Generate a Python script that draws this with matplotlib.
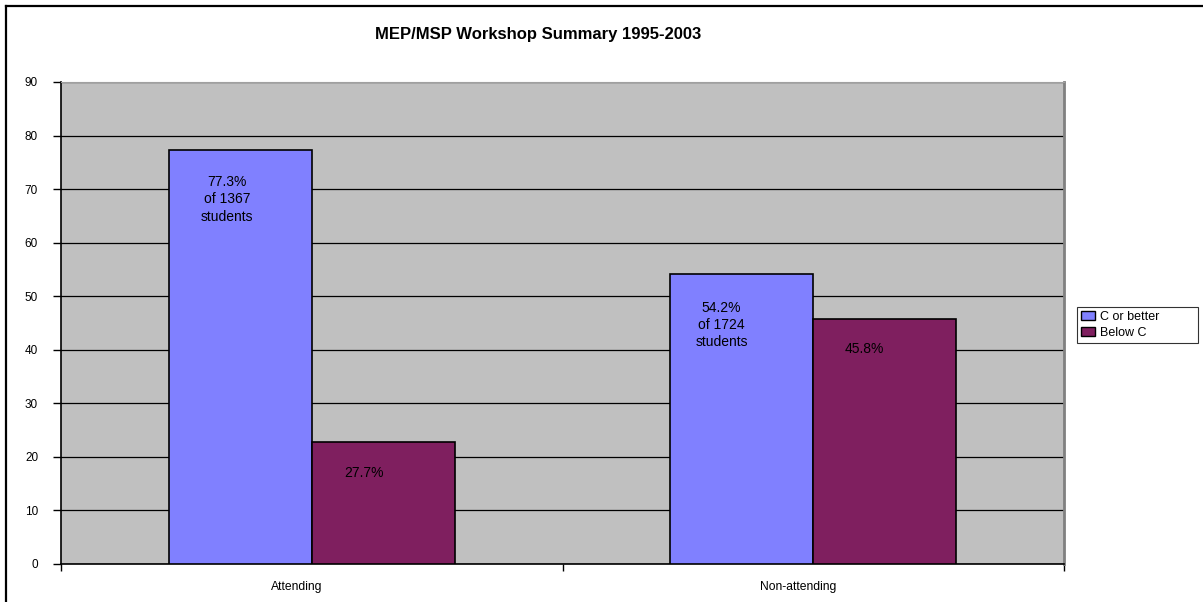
import matplotlib
matplotlib.use("Agg")
import matplotlib.pyplot as plt
from matplotlib.patches import Patch
from matplotlib.lines import Line2D

plt.rcParams['font.family'] = ['Liberation Sans', 'DejaVu Sans']

categories = ["Attending", "Non-attending"]
series_names = ["C or better", "Below C"]
c_or_better = [77.3, 54.2]
below_c = [22.7, 45.8]
bar_labels_c = ["77.3%\nof 1367\nstudents", "54.2%\nof 1724\nstudents"]
bar_labels_b = ["27.7%", "45.8%"]
yticks = list(range(0, 91, 10))

blue = "#8080FF"
purple = "#7F1F5F"

fig = plt.figure(figsize=(12.03, 6.02), dpi=100)
# outer chart border (only top and left visible; image is cropped at right/bottom)
fig.lines.append(Line2D([6/1203, 6/1203], [0, 1 - 6/602], transform=fig.transFigure,
                        color="black", linewidth=1.6))
fig.lines.append(Line2D([6/1203, 1], [1 - 6/602, 1 - 6/602], transform=fig.transFigure,
                        color="black", linewidth=1.6))

ax = fig.add_axes([61/1203, 38/602, 1003/1203, 482/602])
ax.set_facecolor("#C0C0C0")
w = 0.285
x = list(range(len(categories)))
ax.bar([i - w/2 for i in x], c_or_better, width=w, color=blue, edgecolor="black", linewidth=1.2,
       label=series_names[0], zorder=3)
ax.bar([i + w/2 for i in x], below_c, width=w, color=purple, edgecolor="black", linewidth=1.2,
       label=series_names[1], zorder=3)

ax.set_xlim(-0.5, 1.5)
ax.set_ylim(0, 90)
ax.set_yticks(yticks)
ax.set_yticklabels([str(v) for v in yticks], fontsize=8.5)
ax.yaxis.grid(True, color="black", linewidth=0.9, zorder=1)
ax.set_axisbelow(True)
ax.tick_params(axis='y', direction='out', length=6, width=1, pad=10.5)

ax.set_xticks([-0.5, 0.5, 1.5])
ax.set_xticklabels([])
ax.tick_params(axis='x', direction='out', length=5, width=1)
for i, c in enumerate(categories):
    ax.text(i - 0.03, -4.3, c, ha='center', va='center', fontsize=8.7)

ax.spines['left'].set_linewidth(1.2)
ax.spines['bottom'].set_linewidth(1.2)
ax.spines['top'].set_color("#A0A0A0")
ax.spines['right'].set_color("#808080")
ax.spines['right'].set_linewidth(2)

# in-bar labels
ax.text(-0.169, 68.1, bar_labels_c[0], ha='center', va='center', fontsize=10, linespacing=1.3, zorder=4)
ax.text(0.817, 44.6, bar_labels_c[1], ha='center', va='center', fontsize=10, linespacing=1.3, zorder=4)
ax.text(0.104, 17.0, bar_labels_b[0], ha='center', va='center', fontsize=10, zorder=4)
ax.text(1.102, 40.1, bar_labels_b[1], ha='center', va='center', fontsize=10, zorder=4)

fig.text(538/1203, 1 - 35/602, "MEP/MSP Workshop Summary 1995-2003", ha='center', va='center',
         fontsize=12, fontweight='bold')

handles = [Patch(facecolor=blue, edgecolor="black"), Patch(facecolor=purple, edgecolor="black")]
leg = fig.legend(handles, series_names, loc='lower left',
                 bbox_to_anchor=(1077/1203, (602 - 343)/602, 121/1203, 40/602), mode='expand',
                 fontsize=9, frameon=True, fancybox=False, edgecolor="black",
                 handlelength=1.1, handleheight=0.7, handletextpad=0.35, borderpad=0.35,
                 labelspacing=0.3, borderaxespad=0)
leg.get_frame().set_linewidth(0.8)

fig.savefig("out.png", dpi=100)
